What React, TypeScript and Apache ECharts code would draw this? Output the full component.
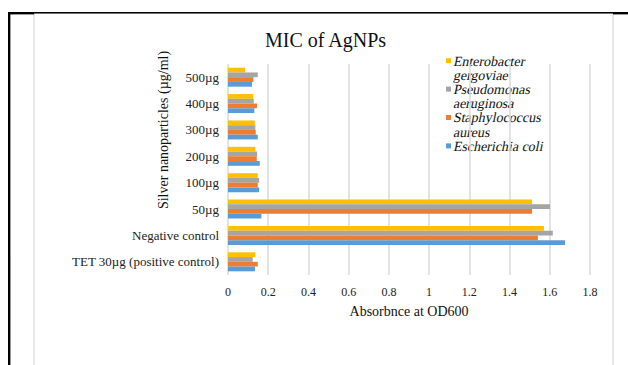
import React, { useEffect, useRef } from "react";
import * as echarts from "echarts";

// Concentration groups, listed bottom to top on the category axis
const categories = [
  "TET 30µg (positive control)",
  "Negative control",
  "50µg",
  "100µg",
  "200µg",
  "300µg",
  "400µg",
  "500µg",
];

// Absorbance at OD600 per organism, same order as categories
const enterobacterGergoviae = [0.136, 1.571, 1.512, 0.148, 0.136, 0.133, 0.126, 0.085];
const pseudomonasAeruginosa = [0.123, 1.615, 1.601, 0.155, 0.145, 0.136, 0.128, 0.148];
const staphylococcusAureus = [0.148, 1.541, 1.512, 0.148, 0.143, 0.138, 0.144, 0.126];
const escherichiaColi = [0.134, 1.676, 0.166, 0.155, 0.158, 0.148, 0.131, 0.119];

// Series drawn top to bottom inside each group
const seriesNames = [
  "Enterobacter gergoviae",
  "Pseudomonas aeruginosa",
  "Staphylococcus aureus",
  "Escherichia coli",
];
const seriesColors = ["#FFC000", "#A5A5A5", "#ED7D31", "#5B9BD5"];

// Legend entries, top to bottom, with their wrapped labels
const legendLabels = [
  "Enterobacter\ngergoviae",
  "Pseudomonas\naeruginosa",
  "Staphylococcus\naureus",
  "Escherichia coli",
];

const xTicks = [0, 0.2, 0.4, 0.6, 0.8, 1, 1.2, 1.4, 1.6, 1.8];

const SERIF = "Liberation Serif";
const LEGEND_SLANT = -0.21;

export default function App() {
  const ref = useRef<HTMLDivElement>(null);

  useEffect(() => {
    if (!ref.current) return;
    const chart = echarts.init(ref.current, undefined, { renderer: "svg" });
    const values = [enterobacterGergoviae, pseudomonasAeruginosa, staphylococcusAureus, escherichiaColi];

    // Legend: swatch beside the first line of each entry
    const legendGraphics: any[] = [];
    const legendLines: string[] = [];
    const lineHeight = 14.2;
    let lineCenter = 60.7;
    legendLabels.forEach((label, i) => {
      legendGraphics.push({
        type: "rect",
        shape: { x: 446, y: lineCenter - 2.5, width: 5, height: 5 },
        style: { fill: seriesColors[i] },
        silent: true,
      });
      label.split("\n").forEach((line) => {
        legendLines.push(line);
        legendGraphics.push({
          type: "text",
          x: 454,
          y: lineCenter,
          style: {
            text: line,
            fill: "#111",
            fontFamily: SERIF,
            fontSize: 14,
            verticalAlign: "middle",
            align: "left",
          },
          silent: true,
        });
        lineCenter += lineHeight;
      });
    });

    chart.setOption({
      animation: false,
      backgroundColor: "#ffffff",
      title: {
        text: "MIC of AgNPs",
        left: 260,
        top: 25,
        textStyle: { fontFamily: SERIF, fontSize: 20, fontWeight: "normal", color: "#111" },
      },
      grid: { left: 228, right: 38, top: 64, bottom: 90, containLabel: false },
      xAxis: {
        type: "value",
        min: 0,
        max: xTicks[xTicks.length - 1],
        interval: 0.2,
        name: "Absorbnce at OD600",
        nameLocation: "middle",
        nameGap: 29,
        nameTextStyle: { fontFamily: SERIF, fontSize: 14, color: "#111" },
        axisLine: { show: false },
        axisTick: { show: false },
        axisLabel: {
          fontFamily: SERIF,
          fontSize: 12,
          color: "#222",
          margin: 11,
          formatter: (v: number) => String(Math.round(v * 10) / 10),
        },
        splitLine: { show: true, lineStyle: { color: "#d9d9d9", width: 1.5 } },
      },
      yAxis: {
        type: "category",
        data: categories,
        axisLine: { show: false },
        axisTick: { show: false },
        axisLabel: { fontFamily: SERIF, fontSize: 13, color: "#222", margin: 9 },
        splitLine: { show: false },
      },
      series: seriesNames.map((name, i) => ({
        name,
        type: "bar",
        data: values[i],
        itemStyle: { color: seriesColors[i] },
        barGap: "0%",
        barCategoryGap: "28%",
      })),
      graphic: [
        // page frame
        { type: "rect", shape: { x: 34, y: 13, width: 579, height: 360 }, style: { fill: "none", stroke: "#d0d0d0", lineWidth: 1 }, silent: true },
        { type: "rect", shape: { x: 8, y: 12, width: 620, height: 1.6 }, style: { fill: "#000" }, silent: true },
        { type: "rect", shape: { x: 8, y: 12, width: 26, height: 2.4 }, style: { fill: "#000" }, silent: true },
        { type: "rect", shape: { x: 613, y: 12, width: 15, height: 2.4 }, style: { fill: "#000" }, silent: true },
        { type: "rect", shape: { x: 8, y: 12, width: 2.4, height: 353 }, style: { fill: "#000" }, silent: true },
        // y-axis title
        {
          type: "text",
          x: 163,
          y: 130,
          rotation: Math.PI / 2,
          style: {
            text: "Silver nanoparticles (µg/ml)",
            fill: "#111",
            fontFamily: SERIF,
            fontSize: 14,
            align: "center",
            verticalAlign: "middle",
          },
          silent: true,
        },
        ...legendGraphics,
      ],
    });

    // Slant the legend lines (italic look) about each line's centre
    try {
      const zr: any = chart.getZr();
      const wanted = new Set(legendLines);
      zr.storage.getRoots().forEach((root: any) => {
        const visit = (el: any) => {
          if (el.type === "text" && el.style && wanted.has(el.style.text) && el.x > 440) {
            el.skewX = LEGEND_SLANT;
            el.markRedraw();
          }
          if (el.childrenRef) el.childrenRef().forEach(visit);
        };
        visit(root);
      });
      zr.refreshImmediately();
    } catch (e) {
      // leave the legend upright if the scene graph is not reachable
    }

    return () => chart.dispose();
  }, []);

  return (
    <div
      ref={ref}
      style={{ position: "fixed", left: 0, top: 0, width: 628, height: 365 }}
    />
  );
}
